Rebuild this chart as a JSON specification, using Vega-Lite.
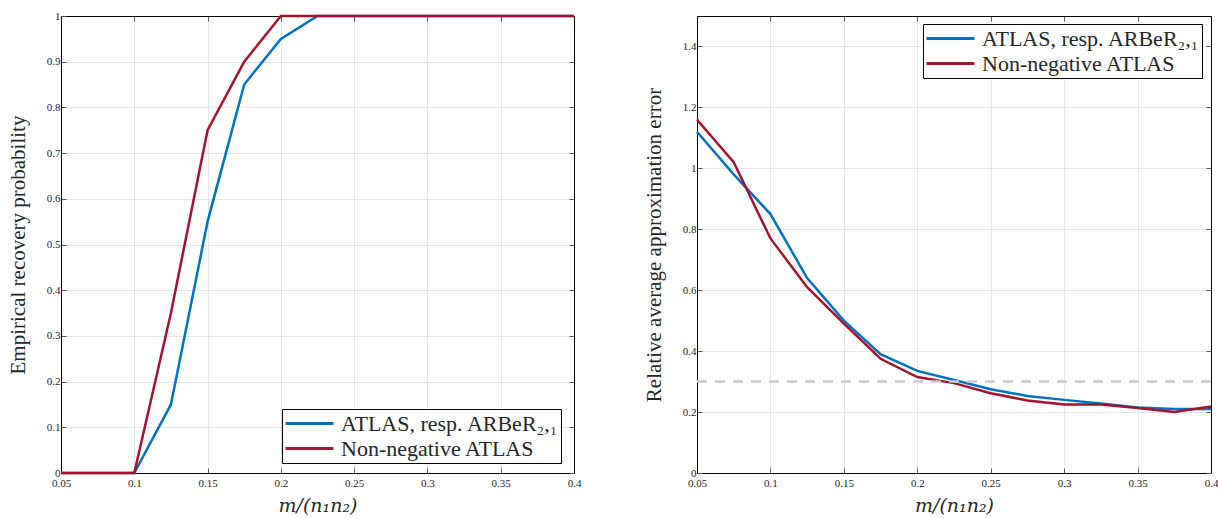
{
  "$schema": "https://vega.github.io/schema/vega-lite/v6.json",
  "padding": {"left": 6, "top": 9, "right": 0, "bottom": 0},
  "background": "white",
  "config": {
    "font": "Liberation Serif",
    "view": {"stroke": "black", "strokeWidth": 1},
    "axis": {
      "labelFont": "Liberation Serif",
      "labelFontSize": 11,
      "labelColor": "#262626",
      "labelFlush": false,
      "titleFont": "Liberation Serif",
      "titleFontSize": 21,
      "titleFontWeight": "normal",
      "titleColor": "#262626",
      "gridColor": "#e6e6e6",
      "gridWidth": 1,
      "domainColor": "black",
      "tickColor": "#555555",
      "tickSize": -5,
      "labelPadding": 8
    },
    "legend": {
      "labelFont": "Liberation Serif",
      "labelFontSize": 22,
      "labelColor": "#262626",
      "labelLimit": 500,
      "strokeColor": "black",
      "fillColor": "white",
      "padding": 2,
      "symbolType": "stroke",
      "symbolStrokeWidth": 3,
      "symbolSize": 2300,
      "clipHeight": 25,
      "rowPadding": 0,
      "labelOffset": 6,
      "title": null
    }
  },
  "datasets": {
    "recovery": [
      {"x": 0.05, "y": 0, "method": "ATLAS, resp. ARBeR₂,₁"},
      {"x": 0.075, "y": 0, "method": "ATLAS, resp. ARBeR₂,₁"},
      {"x": 0.1, "y": 0, "method": "ATLAS, resp. ARBeR₂,₁"},
      {"x": 0.125, "y": 0.15, "method": "ATLAS, resp. ARBeR₂,₁"},
      {"x": 0.15, "y": 0.55, "method": "ATLAS, resp. ARBeR₂,₁"},
      {"x": 0.175, "y": 0.85, "method": "ATLAS, resp. ARBeR₂,₁"},
      {"x": 0.2, "y": 0.95, "method": "ATLAS, resp. ARBeR₂,₁"},
      {"x": 0.225, "y": 1, "method": "ATLAS, resp. ARBeR₂,₁"},
      {"x": 0.25, "y": 1, "method": "ATLAS, resp. ARBeR₂,₁"},
      {"x": 0.275, "y": 1, "method": "ATLAS, resp. ARBeR₂,₁"},
      {"x": 0.3, "y": 1, "method": "ATLAS, resp. ARBeR₂,₁"},
      {"x": 0.325, "y": 1, "method": "ATLAS, resp. ARBeR₂,₁"},
      {"x": 0.35, "y": 1, "method": "ATLAS, resp. ARBeR₂,₁"},
      {"x": 0.375, "y": 1, "method": "ATLAS, resp. ARBeR₂,₁"},
      {"x": 0.4, "y": 1, "method": "ATLAS, resp. ARBeR₂,₁"},
      {"x": 0.05, "y": 0, "method": "Non-negative ATLAS"},
      {"x": 0.075, "y": 0, "method": "Non-negative ATLAS"},
      {"x": 0.1, "y": 0, "method": "Non-negative ATLAS"},
      {"x": 0.125, "y": 0.35, "method": "Non-negative ATLAS"},
      {"x": 0.15, "y": 0.75, "method": "Non-negative ATLAS"},
      {"x": 0.175, "y": 0.9, "method": "Non-negative ATLAS"},
      {"x": 0.2, "y": 1, "method": "Non-negative ATLAS"},
      {"x": 0.225, "y": 1, "method": "Non-negative ATLAS"},
      {"x": 0.25, "y": 1, "method": "Non-negative ATLAS"},
      {"x": 0.275, "y": 1, "method": "Non-negative ATLAS"},
      {"x": 0.3, "y": 1, "method": "Non-negative ATLAS"},
      {"x": 0.325, "y": 1, "method": "Non-negative ATLAS"},
      {"x": 0.35, "y": 1, "method": "Non-negative ATLAS"},
      {"x": 0.375, "y": 1, "method": "Non-negative ATLAS"},
      {"x": 0.4, "y": 1, "method": "Non-negative ATLAS"}
    ],
    "error": [
      {"x": 0.05, "y": 1.12, "method": "ATLAS, resp. ARBeR₂,₁"},
      {"x": 0.075, "y": 0.98, "method": "ATLAS, resp. ARBeR₂,₁"},
      {"x": 0.1, "y": 0.85, "method": "ATLAS, resp. ARBeR₂,₁"},
      {"x": 0.125, "y": 0.64, "method": "ATLAS, resp. ARBeR₂,₁"},
      {"x": 0.15, "y": 0.5, "method": "ATLAS, resp. ARBeR₂,₁"},
      {"x": 0.175, "y": 0.39, "method": "ATLAS, resp. ARBeR₂,₁"},
      {"x": 0.2, "y": 0.335, "method": "ATLAS, resp. ARBeR₂,₁"},
      {"x": 0.225, "y": 0.305, "method": "ATLAS, resp. ARBeR₂,₁"},
      {"x": 0.25, "y": 0.275, "method": "ATLAS, resp. ARBeR₂,₁"},
      {"x": 0.275, "y": 0.253, "method": "ATLAS, resp. ARBeR₂,₁"},
      {"x": 0.3, "y": 0.24, "method": "ATLAS, resp. ARBeR₂,₁"},
      {"x": 0.325, "y": 0.228, "method": "ATLAS, resp. ARBeR₂,₁"},
      {"x": 0.35, "y": 0.215, "method": "ATLAS, resp. ARBeR₂,₁"},
      {"x": 0.375, "y": 0.21, "method": "ATLAS, resp. ARBeR₂,₁"},
      {"x": 0.4, "y": 0.21, "method": "ATLAS, resp. ARBeR₂,₁"},
      {"x": 0.05, "y": 1.16, "method": "Non-negative ATLAS"},
      {"x": 0.075, "y": 1.02, "method": "Non-negative ATLAS"},
      {"x": 0.1, "y": 0.77, "method": "Non-negative ATLAS"},
      {"x": 0.125, "y": 0.61, "method": "Non-negative ATLAS"},
      {"x": 0.15, "y": 0.49, "method": "Non-negative ATLAS"},
      {"x": 0.175, "y": 0.375, "method": "Non-negative ATLAS"},
      {"x": 0.2, "y": 0.315, "method": "Non-negative ATLAS"},
      {"x": 0.225, "y": 0.295, "method": "Non-negative ATLAS"},
      {"x": 0.25, "y": 0.262, "method": "Non-negative ATLAS"},
      {"x": 0.275, "y": 0.238, "method": "Non-negative ATLAS"},
      {"x": 0.3, "y": 0.225, "method": "Non-negative ATLAS"},
      {"x": 0.325, "y": 0.225, "method": "Non-negative ATLAS"},
      {"x": 0.35, "y": 0.213, "method": "Non-negative ATLAS"},
      {"x": 0.375, "y": 0.2, "method": "Non-negative ATLAS"},
      {"x": 0.4, "y": 0.218, "method": "Non-negative ATLAS"}
    ],
    "threshold": [{"y": 0.3}]
  },
  "hconcat": [
    {
      "width": 513,
      "height": 457,
      "data": {"name": "recovery"},
      "layer": [
        {
          "mark": {"type": "line", "strokeWidth": 2.5},
          "encoding": {
            "x": {"field": "x", "type": "quantitative", "scale": {"domain": [0.05, 0.4], "nice": false, "zero": false},
              "axis": {"values": [0.05, 0.1, 0.15, 0.2, 0.25, 0.3, 0.35, 0.4], "format": "~g", "title": "m/(n₁n₂)", "titleFont": "DejaVu Serif", "titleFontStyle": "italic", "titleFontSize": 19, "titlePadding": 8, "labelPadding": 9}},
            "y": {"field": "y", "type": "quantitative", "scale": {"domain": [0, 1], "nice": false},
              "axis": {"values": [0, 0.1, 0.2, 0.3, 0.4, 0.5, 0.6, 0.7, 0.8, 0.9, 1], "format": "~g", "title": "Empirical recovery probability", "titlePadding": 18, "labelPadding": 6}},
            "color": {"field": "method", "type": "nominal",
              "scale": {"domain": ["ATLAS, resp. ARBeR₂,₁", "Non-negative ATLAS"], "range": ["#0072BD", "#A2142F"]},
              "legend": {"orient": "none", "legendX": 221, "legendY": 393}}
          }
        },
        {
          "mark": {"type": "line", "opacity": 0},
          "encoding": {
            "x": {"field": "x", "type": "quantitative", "axis": {"orient": "top", "values": [0.05, 0.1, 0.15, 0.2, 0.25, 0.3, 0.35, 0.4], "labels": false, "grid": false, "title": null}},
            "y": {"field": "y", "type": "quantitative", "axis": {"orient": "right", "values": [0, 0.1, 0.2, 0.3, 0.4, 0.5, 0.6, 0.7, 0.8, 0.9, 1], "labels": false, "grid": false, "title": null}},
            "detail": {"field": "method"}
          }
        }
      ],
      "resolve": {"axis": {"x": "independent", "y": "independent"}}
    },
    {
      "width": 514,
      "height": 457,
      "layer": [
        {
          "data": {"name": "error"},
          "mark": {"type": "line", "strokeWidth": 2.5},
          "encoding": {
            "x": {"field": "x", "type": "quantitative", "scale": {"domain": [0.05, 0.4], "nice": false, "zero": false},
              "axis": {"values": [0.05, 0.1, 0.15, 0.2, 0.25, 0.3, 0.35, 0.4], "format": "~g", "title": "m/(n₁n₂)", "titleFont": "DejaVu Serif", "titleFontStyle": "italic", "titleFontSize": 19, "titlePadding": 8, "labelPadding": 9}},
            "y": {"field": "y", "type": "quantitative", "scale": {"domain": [0, 1.5], "nice": false},
              "axis": {"values": [0, 0.2, 0.4, 0.6, 0.8, 1, 1.2, 1.4], "format": "~g", "title": "Relative average approximation error", "titlePadding": 18, "labelPadding": 6}},
            "color": {"field": "method", "type": "nominal",
              "scale": {"domain": ["ATLAS, resp. ARBeR₂,₁", "Non-negative ATLAS"], "range": ["#0072BD", "#A2142F"]},
              "legend": {"orient": "none", "legendX": 226, "legendY": 8}}
          }
        },
        {
          "data": {"name": "error"},
          "mark": {"type": "line", "opacity": 0},
          "encoding": {
            "x": {"field": "x", "type": "quantitative", "axis": {"orient": "top", "values": [0.05, 0.1, 0.15, 0.2, 0.25, 0.3, 0.35, 0.4], "labels": false, "grid": false, "title": null}},
            "y": {"field": "y", "type": "quantitative", "axis": {"orient": "right", "values": [0, 0.2, 0.4, 0.6, 0.8, 1, 1.2, 1.4], "labels": false, "grid": false, "title": null}},
            "detail": {"field": "method"}
          }
        },
        {
          "data": {"name": "threshold"},
          "mark": {"type": "rule", "color": "#cccccc", "strokeWidth": 2.5, "strokeDash": [10, 8]},
          "encoding": {
            "y": {"field": "y", "type": "quantitative", "axis": null}
          }
        }
      ],
      "resolve": {"axis": {"x": "independent", "y": "independent"}}
    }
  ],
  "spacing": 60,
  "resolve": {"scale": {"color": "independent"}, "legend": {"color": "independent"}}
}
